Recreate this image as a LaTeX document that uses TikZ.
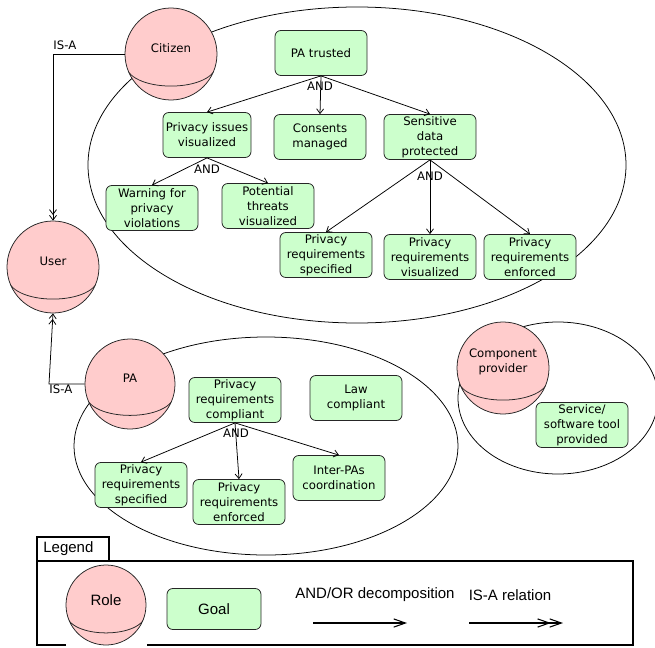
\documentclass[tikz,border=0pt]{standalone}
\usepackage{fontspec}
\setmainfont{DejaVu Sans}
\newfontfamily\legendfont{Liberation Sans}
\usetikzlibrary{arrows.meta,calc}
\definecolor{rolepink}{RGB}{255,204,204}
\definecolor{goalgreen}{RGB}{204,255,204}

\begin{document}
\begin{tikzpicture}[x=0.03cm, y=-0.03cm, line width=0.65pt,
	font=\fontsize{10}{12.8}\selectfont,
	role/.style={circle, draw=black!85, fill=rolepink, inner sep=0pt, minimum size=#1,
		path picture={
			\draw[black!85] ($(path picture bounding box.west)!0.18!(path picture bounding box.south west)$)
			.. controls ($(path picture bounding box.west)!0.87!(path picture bounding box.south west)$)
			and ($(path picture bounding box.east)!0.87!(path picture bounding box.south east)$)
			.. ($(path picture bounding box.east)!0.18!(path picture bounding box.south east)$);
		}},
	rolename/.style={align=center, yshift=5pt},
	goal/.style={rectangle, rounded corners=5pt, draw=black!85, fill=goalgreen, align=center,
		inner sep=1pt, minimum width=2.76cm, minimum height=1.35cm},
	andarrow/.style={-{Straight Barb[length=4pt,width=6pt]}},
	isaarrow/.style={-{Straight Barb[length=4pt,width=6pt] Straight Barb[length=4pt,width=6pt]}},
	legendtext/.style={font=\legendfont\fontsize{12.8}{15}\selectfont},
	legarrow/.style={line width=0.9pt, -{Straight Barb[length=10pt,width=7pt]}},
	legisa/.style={line width=0.9pt, -{Straight Barb[length=10pt,width=7pt,sep=-1.5pt] Straight Barb[length=10pt,width=7pt]}}]
	\useasboundingbox (0,0) rectangle (655,647);
	
	%role boundaries
	\draw (357,165) ellipse [x radius=269, y radius=158];
	\draw (266,446) ellipse [x radius=192, y radius=109];
	\draw (558,398) ellipse [x radius=100, y radius=76];
	
	%roles
	\node (citizen) at (171,54) [role=2.76cm, label={[rolename]center:Citizen}]{};
	\node (user) at (53,267) [role=2.76cm, label={[rolename]center:User}]{};
	\node (pa) at (130,384) [role=2.7cm, label={[rolename]center:PA}]{};
	\node (comp) at (503,368) [role=2.76cm, label={[rolename]center:Component\\provider}]{};
	
	%citizen goals
	\node (pat) at (321,53) [goal]{PA trusted};
	\node (piv) at (207,135) [goal, minimum width=2.64cm]{Privacy issues\\visualized};
	\node (cm) at (320,137) [goal]{Consents\\managed};
	\node (sdp) at (430,137) [goal]{Sensitive\\data\\protected};
	\node (wpv) at (152,208) [goal]{Warning for\\privacy\\violations};
	\node (ptv) at (268,206) [goal]{Potential\\threats\\visualized};
	\node (prs) at (326,255) [goal]{Privacy\\requirements\\specified};
	\node (prv) at (430,257) [goal]{Privacy\\requirements\\visualized};
	\node (pre) at (530,257) [goal]{Privacy\\requirements\\enforced};
	
	\node (and-pat) at (320,86){AND};
	\node (and-piv) at (207,169){AND};
	\node (and-sdp) at (430,176){AND};
	
	\foreach \child in {piv, cm, sdp}{
		\draw[andarrow] (pat.south) -- (\child.north);
	}
	\foreach \child in {wpv, ptv}{
		\draw[andarrow] (piv.south) -- (\child.north);
	}
	\foreach \child in {prs, prv, pre}{
		\draw[andarrow] (sdp.south) -- (\child.north);
	}
	
	%pa goals
	\node (prc) at (235,400) [goal]{Privacy\\requirements\\compliant};
	\node (lc) at (356,398) [goal]{Law\\compliant};
	\node (pas) at (141,485) [goal]{Privacy\\requirements\\specified};
	\node (pae) at (239,502) [goal]{Privacy\\requirements\\enforced};
	\node (ipc) at (339,478) [goal]{Inter-PAs\\coordination};
	
	\node (and-prc) at (236,433){AND};
	
	\foreach \child in {pas, pae, ipc}{
		\draw[andarrow] (prc.south) -- (\child.north);
	}
	
	%component provider goal
	\node (stp) at (582,425) [goal]{Service/\\software tool\\provided};
	
	%is-a relations
	\draw[isaarrow] (citizen.west) -| (user.north);
	\node (isa-citizen) at (53,45) [anchor=west, inner sep=0pt]{IS-A};
	\coordinate (pa-bend) at (49,384);
	\draw[isaarrow] (pa.west) -- (pa-bend) -- (user.south);
	\node (isa-pa) at (49,389) [anchor=west, inner sep=0pt]{IS-A};
	
	%legend
	\draw[line width=1pt] (37,537) rectangle (109,561);
	\node (legend-title) at (43,549) [anchor=west, inner sep=0pt, legendtext]{Legend};
	\draw[line width=1pt] (66,645) -- (37,645) -- (37,561) -- (633,561) -- (633,645) -- (147,645);
	\node (role) at (106,605) [role=2.4cm, label={[rolename, yshift=-1pt, legendtext]center:Role}]{};
	\node (goal) at (214,609) [goal, minimum width=2.82cm, minimum height=1.23cm, legendtext]{Goal};
	\node (dec-text) at (375,595) [legendtext]{AND/OR decomposition};
	\node (isa-text) at (510,595) [legendtext]{IS-A relation};
	\coordinate (dec-a) at (313,623);
	\coordinate (dec-b) at (407,623);
	\coordinate (isa-a) at (469,623);
	\coordinate (isa-b) at (563,623);
	\draw[legarrow] (dec-a) -- (dec-b);
	\draw[legisa] (isa-a) -- (isa-b);
\end{tikzpicture}
\end{document}
